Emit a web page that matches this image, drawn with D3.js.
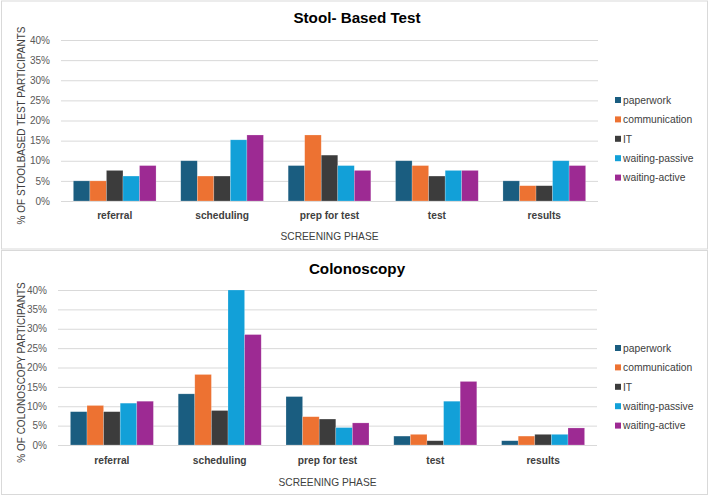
<!DOCTYPE html>
<html>
<head>
<meta charset="utf-8">
<script src="https://cdn.jsdelivr.net/npm/d3@7"></script>
<style>
    body { margin: 0; background: #fff; }
    text { font-family: "Liberation Sans", Arial, sans-serif; }
</style>
</head>
<body>
<div id="chart-area"></div>
<script>
const FIGURE = { WIDTH: 708, HEIGHT: 496 };

const phases = ["referral", "scheduling", "prep for test", "test", "results"];
const seriesNames = ["paperwork", "communication", "IT", "waiting-passive", "waiting-active"];
const seriesColors = ["#1a5d80", "#ed7232", "#3c3c3c", "#12a0d8", "#9d2a93"];
const yTicks = [0, 5, 10, 15, 20, 25, 30, 35, 40];

// values per series, in phase order (percent)
const stoolPaperwork = [5.0, 10.0, 8.8, 10.0, 5.0];
const stoolCommunication = [5.0, 6.2, 16.4, 8.8, 3.8];
const stoolIT = [7.6, 6.2, 11.4, 6.2, 3.8];
const stoolWaitingPassive = [6.2, 15.2, 8.8, 7.6, 10.0];
const stoolWaitingActive = [8.8, 16.4, 7.6, 7.6, 8.8];

const colonPaperwork = [8.6, 13.2, 12.5, 2.3, 1.1];
const colonCommunication = [10.2, 18.2, 7.3, 2.75, 2.3];
const colonIT = [8.6, 8.9, 6.7, 1.1, 2.75];
const colonWaitingPassive = [10.8, 40.0, 4.5, 11.3, 2.75];
const colonWaitingActive = [11.3, 28.5, 5.7, 16.4, 4.4];

const panels = [
    {
        title: "Stool- Based Test",
        yLabel: "% OF STOOLBASED TEST PARTICIPANTS",
        values: [stoolPaperwork, stoolCommunication, stoolIT, stoolWaitingPassive, stoolWaitingActive],
        box: [1, 1, 706, 248],
        plot: { left: 61, right: 598, top: 40, bottom: 201 },
        titleY: 22.5, catY: 219, xTitleY: 240, legendY: 100
    },
    {
        title: "Colonoscopy",
        yLabel: "% OF COLONOSCOPY PARTICIPANTS",
        values: [colonPaperwork, colonCommunication, colonIT, colonWaitingPassive, colonWaitingActive],
        box: [1, 250.5, 706, 244],
        plot: { left: 58, right: 597, top: 290, bottom: 445 },
        titleY: 273.5, catY: 463.5, xTitleY: 486, legendY: 348
    }
];

let svg = d3.select("#chart-area")
    .append("svg")
        .attr("width", FIGURE.WIDTH)
        .attr("height", FIGURE.HEIGHT);

panels.forEach(p => {
    let g = svg.append("g");

    // panel frame
    g.append("rect")
        .attr("x", p.box[0] + 0.5)
        .attr("y", p.box[1])
        .attr("width", p.box[2])
        .attr("height", p.box[3])
        .attr("fill", "#fff")
        .attr("stroke", "#d9d9d9");

    let x = d3.scaleBand()
        .domain(phases)
        .range([p.plot.left, p.plot.right])
        .paddingInner(0.23)
        .paddingOuter(0.115);

    let xSeries = d3.scaleBand()
        .domain(seriesNames)
        .range([0, x.bandwidth()]);

    let y = d3.scaleLinear()
        .domain([0, 40])
        .range([p.plot.bottom, p.plot.top]);

    // gridlines + tick labels
    let yAxis = d3.axisLeft(y)
        .tickValues(yTicks)
        .tickSize(-(p.plot.right - p.plot.left))
        .tickPadding(11)
        .tickFormat(d => d + "%");

    let ya = g.append("g")
        .attr("class", "y-axis")
        .attr("transform", `translate(${p.plot.left}, 0)`)
        .call(yAxis);
    ya.select(".domain").remove();
    ya.selectAll("line").attr("stroke", "#d9d9d9");
    ya.selectAll("text")
        .attr("fill", "#595959")
        .style("font-size", "10px");

    // bars
    seriesNames.forEach((s, i) => {
        g.append("g")
            .selectAll("rect")
            .data(p.values[i])
            .enter()
            .append("rect")
                .attr("x", (d, j) => x(phases[j]) + xSeries(s))
                .attr("y", d => y(d))
                .attr("width", xSeries.bandwidth())
                .attr("height", d => y(0) - y(d))
                .attr("fill", seriesColors[i])
                .attr("stroke", "#ffffff")
                .attr("stroke-opacity", 0.35)
                .attr("stroke-width", 0.6);
    });

    // category labels
    let xAxis = d3.axisBottom(x).tickSize(0).tickPadding(0);
    let xa = g.append("g")
        .attr("transform", `translate(0, ${p.catY - 8})`)
        .call(xAxis);
    xa.select(".domain").remove();
    xa.selectAll("text")
        .attr("fill", "#404040")
        .attr("dy", "0")
        .attr("y", 8)
        .style("font-size", "10.2px")
        .style("font-weight", "bold");

    // title
    g.append("text")
        .attr("x", 357)
        .attr("y", p.titleY)
        .attr("text-anchor", "middle")
        .style("font-size", "15.2px")
        .style("font-weight", "bold")
        .attr("fill", "#000")
        .text(p.title);

    // x axis title
    g.append("text")
        .attr("x", (p.plot.left + p.plot.right) / 2)
        .attr("y", p.xTitleY)
        .attr("text-anchor", "middle")
        .style("font-size", "10.2px")
        .attr("fill", "#404040")
        .text("SCREENING PHASE");

    // y axis title
    g.append("text")
        .attr("transform", `translate(24.5, ${(p.plot.top + p.plot.bottom) / 2 + 5}) rotate(-90)`)
        .attr("text-anchor", "middle")
        .style("font-size", "10px")
        .attr("fill", "#404040")
        .text(p.yLabel);

    // legend
    let legend = g.append("g")
        .attr("transform", `translate(615, ${p.legendY})`);
    seriesNames.forEach((s, i) => {
        let row = legend.append("g")
            .attr("transform", `translate(0, ${i * 19.4})`);
        row.append("rect")
            .attr("x", 0)
            .attr("y", -3)
            .attr("width", 6)
            .attr("height", 6)
            .attr("fill", seriesColors[i]);
        row.append("text")
            .attr("x", 8)
            .attr("y", 3.8)
            .style("font-size", "10.3px")
            .attr("fill", "#404040")
            .text(s);
    });
});
</script>
</body>
</html>
